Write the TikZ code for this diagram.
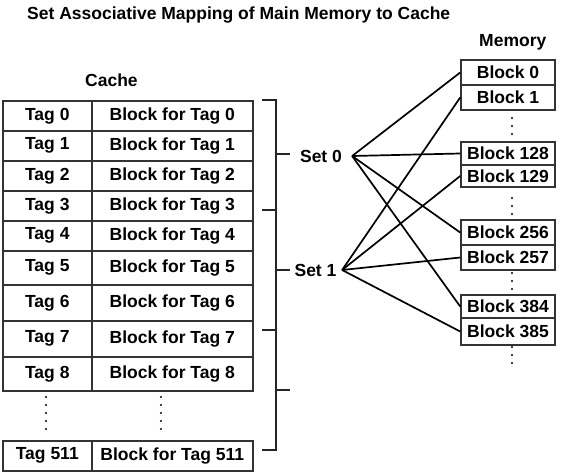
\documentclass[tikz,border=0pt]{standalone}
\usepackage{fontspec}
\setmainfont{Liberation Sans}
\begin{document}
\begin{tikzpicture}[x=1pt,y=-1pt,font=\bfseries\fontsize{17.5}{20}\selectfont,
  cell/.style={draw=black!80,line width=1.6pt,anchor=north west,inner sep=0pt},
  memblk/.style={draw=black!80,line width=1.6pt,minimum width=94pt,inner sep=0pt},
  link/.style={line width=1.7pt},
  bracket/.style={line width=1.6pt,black!85},
  dotcol/.style={line width=2.3pt,line cap=round,dash pattern=on 0pt off 8pt}]
\useasboundingbox (0,0) rectangle (567,472);
\node[anchor=base west,inner sep=0pt] (title) at (27,19) {Set Associative Mapping of Main Memory to Cache};
\node[anchor=base west,inner sep=0pt] (cachelbl) at (85,86) {Cache};
\node[anchor=base west,inner sep=0pt] (memlbl) at (479,46.5) {Memory};
% cache lines
\foreach \i/\top/\h in {0/100/30,1/130/30,2/160/30,3/190/30,4/220/30,5/250/34,6/284/36,7/320/36,8/356/34}{\node[cell,minimum width=89pt,minimum height=\h pt] (tag\i) at (2,\top) {Tag \i};\node[cell,minimum width=161pt,minimum height=\h pt] (blk\i) at (91,\top) {Block for Tag \i};}
\node[cell,minimum width=89pt,minimum height=30pt] (tag511) at (2,440) {Tag 511};
\node[cell,minimum width=161pt,minimum height=30pt] (blk511) at (91,440) {Block for Tag 511};
\draw[dotcol] (46,397) -- (46,429);
\draw[dotcol] (161,397) -- (161,429);
% sets
\draw[bracket] (262,100) -| (276,450) -- (262,450);
\foreach \y in {210,330}{\draw[bracket] (262,\y) -- (276,\y);}
\foreach \y in {154,270,390}{\draw[bracket] (276,\y) -- (290,\y);}
\node[inner xsep=10pt] (set0) at (321,156) {Set 0};
\node[inner xsep=5.5pt] (set1) at (315.5,270) {Set 1};
% main memory
\foreach \n/\y/\h in {0/72.5/25,1/97.5/25,128/153.5/23,129/176/22,256/232.5/25,257/257.5/25,384/306.5/23,385/331.5/27}{\node[memblk,minimum height=\h pt] (mb\n) at (508,\y) {Block \n};}
\foreach \y in {118,198,273,347}{\draw[dotcol] (512,\y) -- ++(0,16);}
\foreach \b in {0,128,256,384}{\draw[link] (set0.east) -- (mb\b.west);}
\foreach \b in {1,129,257,385}{\draw[link] (set1.east) -- (mb\b.west);}
\end{tikzpicture}
\end{document}
